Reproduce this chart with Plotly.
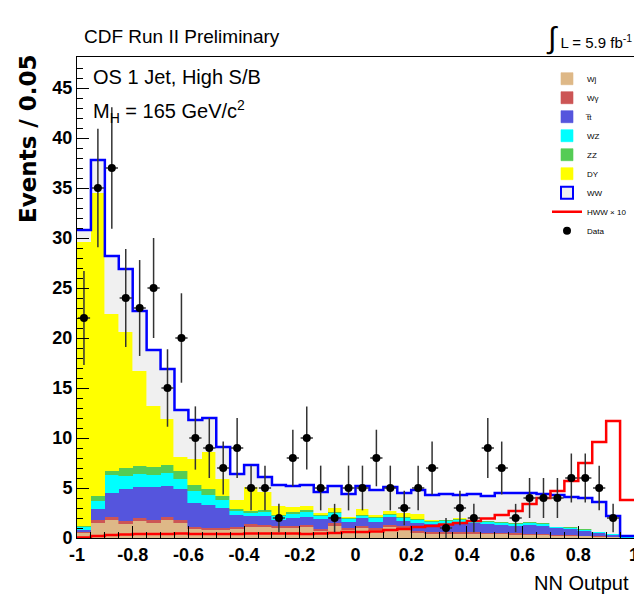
import numpy as np
import plotly.graph_objects as go

# ---------------- data (events per 0.05 bin of NN output, 40 bins from -1 to 1) ----------------
bin_lo = -1.0
bin_width = 0.05
n_bins = 40

wj = [0.5, 1.5, 1.8, 1.4, 1.7, 1.5, 1.8, 1.5, 0.9, 0.8,
      0.8, 0.9, 1.1, 1.1, 1.0, 1.0, 1.1, 0.7, 1.2, 0.8,
      1.0, 0.8, 1.1, 1.0, 0.5, 0.45, 0.45, 0.45, 0.45, 0.4,
      0.4, 0.35, 0.3, 0.3, 0.25, 0.25, 0.2, 0.15, 0.1, 0.02]
wgamma = [0.1, 0.3, 0.3, 0.3, 0.3, 0.3, 0.3, 0.3, 0.2, 0.25,
          0.25, 0.2, 0.3, 0.2, 0.2, 0.2, 0.2, 0.2, 0.3, 0.2,
          0.2, 0.2, 0.2, 0.2, 0.2, 0.15, 0.15, 0.15, 0.15, 0.15,
          0.15, 0.15, 0.15, 0.1, 0.1, 0.05, 0.05, 0.05, 0.02, 0.01]
ttbar = [0.2, 1.1, 2.4, 3.2, 3.1, 3.3, 3.1, 3.1, 2.4, 2.25,
         1.95, 1.2, 0.8, 0.9, 0.6, 0.8, 0.8, 1.0, 0.6, 0.6,
         0.8, 0.6, 0.8, 0.5, 0.8, 0.8, 0.8, 0.9, 0.9, 0.85,
         0.75, 0.7, 0.9, 0.8, 0.65, 0.6, 0.45, 0.3, 0.18, 0.02]
wz = [0.3, 0.8, 1.8, 1.3, 1.3, 1.2, 1.3, 1.0, 1.2, 1.0,
      0.8, 0.4, 0.3, 0.4, 0.4, 0.4, 0.5, 0.3, 0.4, 0.3,
      0.2, 0.4, 0.2, 0.3, 0.3, 0.25, 0.3, 0.3, 0.25, 0.25,
      0.25, 0.25, 0.2, 0.25, 0.1, 0.15, 0.15, 0.1, 0.1, 0.03]
zz = [0.1, 0.5, 0.4, 0.8, 0.8, 0.8, 0.8, 0.8, 0.6, 0.6,
      0.4, 0.2, 0.2, 0.2, 0.1, 0.2, 0.2, 0.15, 0.1, 0.1,
      0.1, 0.1, 0.1, 0.1, 0.1, 0.1, 0.1, 0.1, 0.05, 0.05,
      0.05, 0.05, 0.05, 0.05, 0.03, 0.03, 0.03, 0.02, 0.02, 0.01]
dy = [28.4, 30.3, 15.7, 13.6, 9.5, 6.1, 4.6, 1.4, 2.6, 3.7,
      1.7, 0.9, 2.4, 1.8, 0.9, 0.5, 0.4, 0.15, 0.4, 0.1,
      0.6, 0.2, 0.3, 0.4, 0.5, 0.1, 0.05, 0.1, 0.05, 0.05,
      0.05, 0.05, 0.02, 0.02, 0.02, 0.02, 0.02, 0.01, 0.01, 0.01]
ww = [1.2, 3.3, 5.8, 6.3, 6.0, 5.6, 5.0, 4.7, 3.9, 3.4,
      3.2, 2.6, 2.2, 1.5, 2.1, 2.1, 2.1, 2.1, 2.2, 2.3,
      2.3, 2.5, 2.4, 2.0, 2.4, 2.45, 2.55, 2.3, 2.55, 2.45,
      2.85, 2.95, 2.88, 2.88, 3.15, 3.0, 3.1, 2.97, 1.77, 0.1]
hww_x10 = [0.05, 0.2, 0.3, 0.35, 0.4, 0.4, 0.4, 0.45, 0.4, 0.4,
           0.4, 0.4, 0.45, 0.45, 0.45, 0.45, 0.4, 0.45, 0.5, 0.6,
           0.6, 0.65, 0.8, 0.9, 1.1, 1.2, 1.35, 1.5, 1.7, 1.95,
           2.3, 2.7, 3.4, 4.0, 4.7, 5.7, 7.5, 9.6, 11.7, 3.8]
data_counts = [22, 35, 37, 24, 23, 25, 15, 20, 10, 9,
               7, 9, 5, 5, 2, 8, 10, 5, 2, 5,
               5, 8, 5, 3, 5, 7, 1, 3, 2, 9,
               7, 2, 4, 4, 4, 6, 6, 5, 2, None]

x_tickvals = [-1, -0.8, -0.6, -0.4, -0.2, 0, 0.2, 0.4, 0.6, 0.8, 1]
x_ticktext = ["-1", "-0.8", "-0.6", "-0.4", "-0.2", "0", "0.2", "0.4", "0.6", "0.8", "1"]
y_tickvals = [0, 5, 10, 15, 20, 25, 30, 35, 40, 45]
y_ticktext = ["0", "5", "10", "15", "20", "25", "30", "35", "40", "45"]

# ---------------- derived ----------------
edges = bin_lo + bin_width * np.arange(n_bins + 1)
centers = edges[:-1] + bin_width / 2
components = [
    ("Wj", wj, "#deb887"),
    ("W\u03b3", wgamma, "#cc5555"),
    ("t\u0305t", ttbar, "#5555dd"),
    ("WZ", wz, "#00ffff"),
    ("ZZ", zz, "#55cc55"),
    ("DY", dy, "#ffff00"),
]
total = np.sum([np.array(c[1]) for c in components] + [np.array(ww)], axis=0)

fig = go.Figure()
for name, vals, col in components:
    fig.add_trace(go.Bar(x=centers, y=vals, width=bin_width, name=name,
                         marker=dict(color=col, line=dict(color=col, width=0.6))))
# WW fill (no outline; outline drawn as a step line of the total)
fig.add_trace(go.Bar(x=centers, y=ww, width=bin_width, name="WW", showlegend=False,
                     marker=dict(color="#f0f0f0", line=dict(color="#f0f0f0", width=0.6))))
# legend entry for WW (grey box, blue outline)
fig.add_trace(go.Bar(x=[None], y=[None], name="WW",
                     marker=dict(color="#f0f0f0", line=dict(color="#0000ff", width=2))))
# total stack outline
fig.add_trace(go.Scatter(x=edges, y=list(total) + [total[-1]], mode="lines",
                         line=dict(color="#0000ff", width=2.5, shape="hv"),
                         showlegend=False, hoverinfo="skip"))
# signal x10
fig.add_trace(go.Scatter(x=edges, y=list(hww_x10) + [hww_x10[-1]], mode="lines",
                         name="HWW \u00d7 10",
                         line=dict(color="#ff0000", width=2.5, shape="hv")))
# data
err = [np.sqrt(v) if v is not None else None for v in data_counts]
fig.add_trace(go.Scatter(x=centers, y=data_counts, mode="markers", name="Data",
                         marker=dict(color="black", size=8),
                         error_y=dict(type="data", array=err, color="#333333",
                                      thickness=1.5, width=0),
                         error_x=dict(type="constant", value=0.022, color="#333333",
                                      thickness=1.5, width=0)))

tickfont = dict(family="Liberation Sans", size=18, color="black", weight="bold")
fig.update_layout(
    width=634, height=600,
    margin=dict(l=77, r=0, t=57, b=62, autoexpand=False),
    barmode="stack", bargap=0,
    plot_bgcolor="white", paper_bgcolor="white",
    font=dict(family="Liberation Sans", color="black"),
    xaxis=dict(range=[-1, 1], tickvals=x_tickvals, ticktext=x_ticktext,
               ticks="inside", ticklen=12, tickcolor="black", tickwidth=1,
               showline=True, linecolor="black", linewidth=1, mirror=True,
               showgrid=False, zeroline=False, tickfont=tickfont, automargin=False,
               ticklabeloverflow="allow",
               minor=dict(dtick=0.05, tick0=-1, ticks="inside", ticklen=6,
                          tickcolor="black", showgrid=False)),
    yaxis=dict(range=[0, 48.1], tickvals=y_tickvals, ticktext=y_ticktext,
               ticks="inside", ticklen=12, tickcolor="black", tickwidth=1,
               showline=True, linecolor="black", linewidth=1, mirror=True,
               showgrid=False, zeroline=False, tickfont=tickfont, automargin=False,
               minor=dict(dtick=1, tick0=0, ticks="inside", ticklen=6,
                          tickcolor="black", showgrid=False)),
    legend=dict(x=(547 - 77) / 557.0, y=0.985, xanchor="left", yanchor="top",
                traceorder="normal", font=dict(size=8, family="Liberation Sans"),
                bgcolor="rgba(0,0,0,0)", itemwidth=30, tracegroupgap=0),
    showlegend=True,
)

def px_x(px):
    return (px - 77) / 557.0

def px_y(py):
    return (538 - py) / 481.0

annotations = [
    dict(text="CDF Run II Preliminary", x=px_x(82), y=px_y(36), xanchor="left", yanchor="middle",
         font=dict(size=19)),
    dict(text="<span style='font-size:30px'>\u222b</span> L = 5.9 fb<sup>-1</sup>",
         x=1.0, y=px_y(38), xanchor="right", yanchor="middle", font=dict(size=15)),
    dict(text="OS 1 Jet, High S/B", x=px_x(91), y=px_y(77), xanchor="left", yanchor="middle",
         font=dict(size=20)),
    dict(text="M<sub>H</sub> = 165 GeV/c<sup>2</sup>", x=px_x(91), y=px_y(112),
         xanchor="left", yanchor="middle", font=dict(size=20)),
    dict(text="Events / 0.05", textangle=-90, x=px_x(28), y=px_y(139), xanchor="center",
         yanchor="middle", font=dict(family="DejaVu Sans", size=23, weight="bold")),
    dict(text="NN Output", x=px_x(631), y=px_y(583), xanchor="right", yanchor="middle",
         font=dict(size=20)),
]
for a in annotations:
    a.update(xref="paper", yref="paper", showarrow=False)
fig.update_layout(annotations=annotations)

fig.write_html("out.html")
